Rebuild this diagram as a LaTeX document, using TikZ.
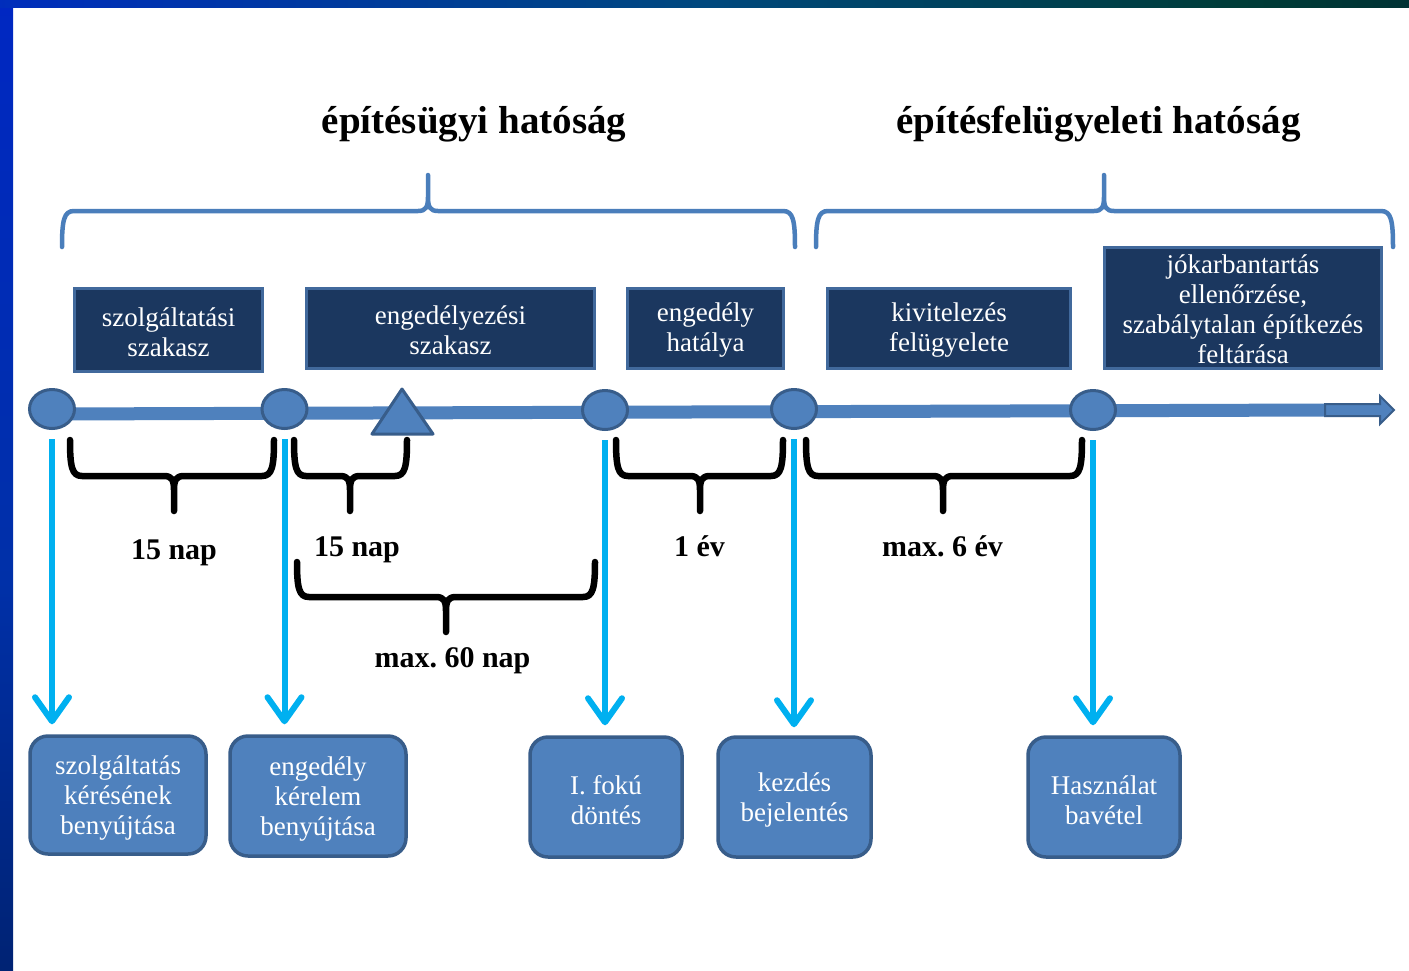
\documentclass[tikz,border=0pt]{standalone}
\usepackage{fontspec}
\setmainfont{Liberation Serif}
\frenchspacing
\usetikzlibrary{shapes.geometric,arrows.meta,calc}
\definecolor{tlblue}{HTML}{4F81BD}
\definecolor{tlborder}{HTML}{385D8A}
\definecolor{navy}{HTML}{1B375F}
\definecolor{navyborder}{HTML}{41699C}
\definecolor{cyanarr}{HTML}{00B0F0}
\definecolor{bracecol}{HTML}{4A7EBB}
\definecolor{lbT}{HTML}{0020D8}
\definecolor{lbM}{HTML}{0030A8}
\definecolor{lbB}{HTML}{001232}
\definecolor{tbA}{HTML}{0020D8}
\definecolor{tbB}{HTML}{0028C8}
\definecolor{tbC}{HTML}{00487E}
\definecolor{tbD}{HTML}{003D38}
\definecolor{tbE}{HTML}{00202E}
\definecolor{tbF}{HTML}{000830}
\pgfdeclareverticalshading{leftbarshade}{100bp}{color(0bp)=(lbB); color(45bp)=(lbM); color(100bp)=(lbT)}
\pgfdeclarehorizontalshading{topbarshade}{100bp}{color(0bp)=(tbA); color(20bp)=(tbB); color(50bp)=(tbC); color(69bp)=(tbD); color(85bp)=(tbE); color(100bp)=(tbF)}
% xL xR xP t h p d
\newcommand{\bracepath}[7]{%
 (#1,#4) .. controls (#1,{#5-#7*9}) and ({#1+2},#5) .. ({#1+12},#5)
 -- ({#3-10},#5) .. controls ({#3-2},#5) and (#3,{#5+#7*4}) .. (#3,{#5+#7*14})
 -- (#3,#6) -- (#3,{#5+#7*14})
 .. controls (#3,{#5+#7*4}) and ({#3+2},#5) .. ({#3+10},#5)
 -- ({#2-12},#5) .. controls ({#2-2},#5) and (#2,{#5-#7*9}) .. (#2,#4)}
\begin{document}
\begin{tikzpicture}[x=1pt,y=-1pt,
  boxfont/.style={font=\fontsize{27}{30}\selectfont},
  boxtext/.style={text=white, align=center, boxfont, inner sep=0pt},
  topbox/.style={draw=navyborder, line width=3pt, fill=navy, inner sep=0pt},
  botbox/.style={draw=tlborder, line width=3.5pt, fill=tlblue, rounded corners=18pt, inner sep=0pt},
  dot/.style={ellipse, draw=tlborder, line width=3pt, fill=tlblue, minimum width=45pt, minimum height=39pt, inner sep=0pt},
  cyanarrow/.style={draw=cyanarr, line width=6pt, -{Straight Barb[length=24pt,width=34pt,round]}},
  bluebrace/.style={draw=bracecol, line width=4.5pt, line join=round, line cap=round},
  blackbrace/.style={draw=black, line width=6.5pt, line join=round, line cap=round},
  title/.style={font=\fontsize{39}{44}\selectfont\bfseries, anchor=base},
  lbl/.style={font=\fontsize{30}{34}\selectfont\bfseries, anchor=base}
]
\useasboundingbox (0,0) rectangle (1409,970);
\fill[white] (0,0) rectangle (1409,970);
\shade[shading=leftbarshade] (0,0) rectangle (13,970);
\shade[shading=topbarshade] (0,0) rectangle (1409,7);

% titles
\node[title] (t1) at (474,133) {építésügyi hatóság};
\node[title] (t2) at (1098.5,133) {építésfelügyeleti hatóság};

% blue braces
\draw[bluebrace] \bracepath{62}{795}{428}{247}{211}{175}{-1};
\draw[bluebrace] \bracepath{816}{1393}{1104}{247}{211}{175}{-1};

% top boxes
\node[topbox, minimum width=188pt, minimum height=83pt, label={[boxtext, yshift=-2pt]center:{szolgáltatási\\szakasz}}] (b1) at (168.5,330) {};
\node[topbox, minimum width=288pt, minimum height=80pt, label={[boxtext, yshift=-2pt]center:{engedélyezési\\szakasz}}] (b2) at (450.5,328.5) {};
\node[topbox, minimum width=156pt, minimum height=80pt, label={[boxtext, yshift=-2pt]center:{engedély\\hatálya}}] (b3) at (705.5,328.5) {};
\node[topbox, minimum width=243pt, minimum height=80pt, label={[boxtext, yshift=-2pt]center:{kivitelezés\\felügyelete}}] (b4) at (949,328.5) {};
\node[topbox, minimum width=277pt, minimum height=121pt, label={[boxtext, yshift=-1.5pt]center:{jókarbantartás\\ellenőrzése,\\szabálytalan építkezés\\feltárása}}] (b5) at (1243,308) {};

% timeline
\coordinate (tlstart) at (52,414);
\coordinate (tlend) at (1326,410);
\draw[tlblue, line width=13pt] (tlstart) -- (tlend);
\draw[draw=tlborder, fill=tlblue, line width=2pt, line join=miter]
  (1325,404) -- (1380,404) -- (1380,396) -- (1394,410) -- (1380,424) -- (1380,416) -- (1325,416) -- cycle;
\draw[draw=tlborder, fill=tlblue, line width=3pt, line join=round]
  (402,389) -- (433,434) -- (372,434) -- cycle;

\node[dot] (c1) at (52,409) {};
\node[dot] (c2) at (284.5,409) {};
\node[dot] (c3) at (605,410) {};
\node[dot] (c4) at (794,409) {};
\node[dot] (c5) at (1093,410) {};

% black braces
\draw[blackbrace] \bracepath{70}{274}{174}{440}{476}{511}{1};
\draw[blackbrace] \bracepath{294}{407}{350}{440}{476}{511}{1};
\draw[blackbrace] \bracepath{297}{595}{446}{562}{597}{632}{1};
\draw[blackbrace] \bracepath{616}{783}{700}{440}{476}{511}{1};
\draw[blackbrace] \bracepath{806}{1082}{943}{440}{476}{511}{1};

% labels
\node[lbl] (l1) at (174,559) {15 nap};
\node[lbl] (l2) at (357,556) {15 nap};
\node[lbl] (l3) at (452.5,667) {max. 60 nap};
\node[lbl] (l4) at (699.5,556) {1 év};
\node[lbl] (l5) at (942.5,556) {max. 6 év};

% bottom boxes
\node[botbox, minimum width=176pt, minimum height=118pt, label={[boxtext, yshift=-3pt]center:{szolgáltatás\\kérésének\\benyújtása}}] (bb1) at (118,795) {};
\node[botbox, minimum width=176pt, minimum height=120pt, label={[boxtext, yshift=-3pt]center:{engedély\\kérelem\\benyújtása}}] (bb2) at (318,796) {};
\node[botbox, minimum width=152pt, minimum height=120pt, label={[boxtext, yshift=-3pt]center:{I. fokú\\döntés}}] (bb3) at (606,797) {};
\node[botbox, minimum width=153pt, minimum height=120pt, label={[boxtext, yshift=-3pt]center:{kezdés\\bejelentés}}] (bb4) at (794.5,797) {};
\node[botbox, minimum width=152pt, minimum height=120pt, label={[boxtext, yshift=-3pt]center:{Használat\\bavétel}}] (bb5) at (1104,797) {};

% cyan arrows
\draw[cyanarrow] ([yshift=-9pt]c1.south) -- ($(c1.south |- bb1.north)+(0,-10)$);
\draw[cyanarrow] ([yshift=-9pt]c2.south) -- ($(c2.south |- bb2.north)+(0,-10)$);
\draw[cyanarrow] ([yshift=-9pt]c3.south) -- ($(c3.south |- bb3.north)+(0,-10)$);
\draw[cyanarrow] ([yshift=-9pt]c4.south) -- ($(c4.south |- bb4.north)+(0,-8)$);
\draw[cyanarrow] ([yshift=-9pt]c5.south) -- ($(c5.south |- bb5.north)+(0,-10)$);
\end{tikzpicture}
\end{document}
